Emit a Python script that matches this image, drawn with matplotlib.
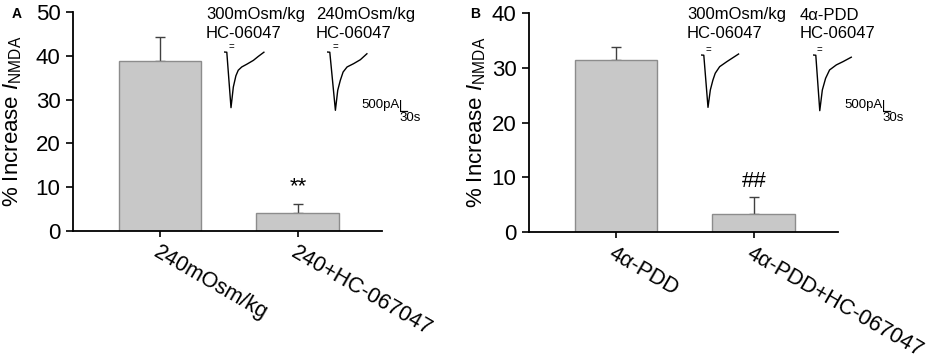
import numpy as np
import matplotlib
matplotlib.use("Agg")
from matplotlib import pyplot as plt
from matplotlib.transforms import ScaledTranslation

plt.rcParams['font.family'] = ['Liberation Sans', 'DejaVu Sans']
plt.rcParams['mathtext.fontset'] = 'custom'
plt.rcParams['mathtext.rm'] = 'Liberation Sans'
plt.rcParams['mathtext.it'] = 'Liberation Sans:italic'

# bar data
labels_a = ['240mOsm/kg', '240+HC-067047']
means_a = [38.8, 4.0]
errs_a = [5.4, 2.1]

labels_b = ['4\u03b1-PDD', '4\u03b1-PDD+HC-067047']
means_b = [31.5, 3.3]
errs_b = [2.2, 3.15]

# example current traces (time in s, current in pA)
t_a1 = [0, 12, 30, 40, 51, 61, 76, 97, 126, 147, 171]
i_a1 = [0, -10, -2530, -1590, -1080, -830, -680, -560, -380, -200, -10]
t_a2 = [0, 12, 36, 46, 57, 69, 86, 114, 143, 171]
i_a2 = [0, -10, -2650, -1740, -1290, -910, -680, -530, -350, -80]
t_b1 = [0, 12, 30, 40, 51, 61, 80, 111, 161]
i_b1 = [0, -10, -2380, -1590, -1140, -830, -530, -300, 45]
t_b2 = [0, 12, 29, 40, 54, 71, 100, 129, 164]
i_b2 = [0, -10, -2530, -1590, -1060, -680, -450, -300, -100]

scale_pa = 500
scale_s = 30

W, H = 945, 360
fig = plt.figure(figsize=(W/100, H/100), dpi=100)

def px_axes(x0, y0, w, h):
    # axes from pixel box (top-left origin)
    return fig.add_axes([x0/W, 1-(y0+h)/H, w/W, h/H])

SPX = 30/7.0     # seconds per pixel
PPX = 500/11.0   # pA per pixel

def trace(x0, y0, t, i):
    ax = px_axes(x0, y0-10, 50, 75)
    ax.plot(t, i, color='black', lw=1.0)
    ax.text(t[2], 5*PPX, '=', fontsize=7, ha='center', va='center')
    ax.set_xlim(0, 50*SPX)
    ax.set_ylim(-65*PPX, 10*PPX)
    ax.axis('off')

def scalebar(x0, y0):
    ax = px_axes(x0, y0-2, 20, 16)
    ax.plot([0, 0, scale_s], [scale_pa, 0, 0], color='black', lw=0.9)
    ax.set_xlim(0, 20*SPX)
    ax.set_ylim(-5*PPX, 11*PPX)
    ax.axis('off')
    ax.text(-0.8*SPX, 6*PPX, '%dpA' % scale_pa, fontsize=9.5, ha='right', va='center')
    ax.text(-0.5*SPX, -1*PPX, '%ds' % scale_s, fontsize=9.5, ha='left', va='top')

def panel(rect, means, errs, labels, ymax, mark, mark_y, label_x):
    ax = fig.add_axes(rect)
    x = np.arange(len(means))
    ax.bar(x, means, width=0.6, color='#c8c8c8', edgecolor='#8c8c8c', lw=1.0, zorder=2)
    ax.errorbar(x, means, yerr=[np.zeros(len(errs)), errs], fmt='none', ecolor='#404040',
                elinewidth=1.0, capsize=3.5, capthick=1.0, zorder=1)
    ax.set_xlim(-0.63, 1.61)
    ax.set_ylim(0, ymax)
    ax.set_yticks(np.arange(0, ymax+1, 10))
    ax.set_xticks(x)
    ax.set_xticklabels(labels, rotation=-30, ha='left', va='top', rotation_mode='anchor', fontsize=15.5)
    off = ScaledTranslation(-4/100, 7/100, fig.dpi_scale_trans)
    for lab in ax.get_xticklabels():
        lab.set_transform(lab.get_transform() + off)
    ax.tick_params(axis='y', labelsize=16, direction='out', length=5, width=1.2, pad=4)
    ax.tick_params(axis='x', direction='out', length=4, width=1.2, pad=4)
    for s in ['top', 'right']:
        ax.spines[s].set_visible(False)
    for s in ['left', 'bottom']:
        ax.spines[s].set_linewidth(1.3)
    ax.set_ylabel(r'% Increase $\mathit{I}_{\mathrm{NMDA}}$', fontsize=16)
    ax.yaxis.set_label_coords(label_x, 0.5)
    ax.text(1, mark_y, mark, fontsize=16, ha='center', va='center')
    return ax

ax_a = panel([73/W, 1-231/H, 309/W, 219/H], means_a, errs_a, labels_a, 50, '**', 10.2, -0.16)
ax_b = panel([529/W, 1-232/H, 309/W, 219/H], means_b, errs_b, labels_b, 40, '##', 9.3, -0.133)

fig.text(17/W, 1-14/H, 'A', fontsize=10, fontweight='bold', ha='center', va='center')
fig.text(475/W, 1-14/H, 'B', fontsize=10, fontweight='bold', ha='center', va='center')

# inset labels
fig.text(206/W, 1-14/H, '300mOsm/kg', fontsize=12, va='center')
fig.text(206/W, 1-33/H, 'HC-06047', fontsize=12, va='center')
fig.text(316/W, 1-14/H, '240mOsm/kg', fontsize=12, va='center')
fig.text(316/W, 1-33/H, 'HC-06047', fontsize=12, va='center')
fig.text(687/W, 1-15/H, '300mOsm/kg', fontsize=12, va='center')
fig.text(687/W, 1-34/H, 'HC-06047', fontsize=12, va='center')
fig.text(800/W, 1-15/H, '4\u03b1-PDD', fontsize=12, va='center')
fig.text(800/W, 1-34/H, 'HC-06047', fontsize=12, va='center')

trace(224, 52, t_a1, i_a1)
trace(327, 52, t_a2, i_a2)
trace(701, 55, t_b1, i_b1)
trace(813, 55, t_b2, i_b2)
scalebar(400, 102)
scalebar(883, 102)

fig.savefig('out.png', dpi=100)
